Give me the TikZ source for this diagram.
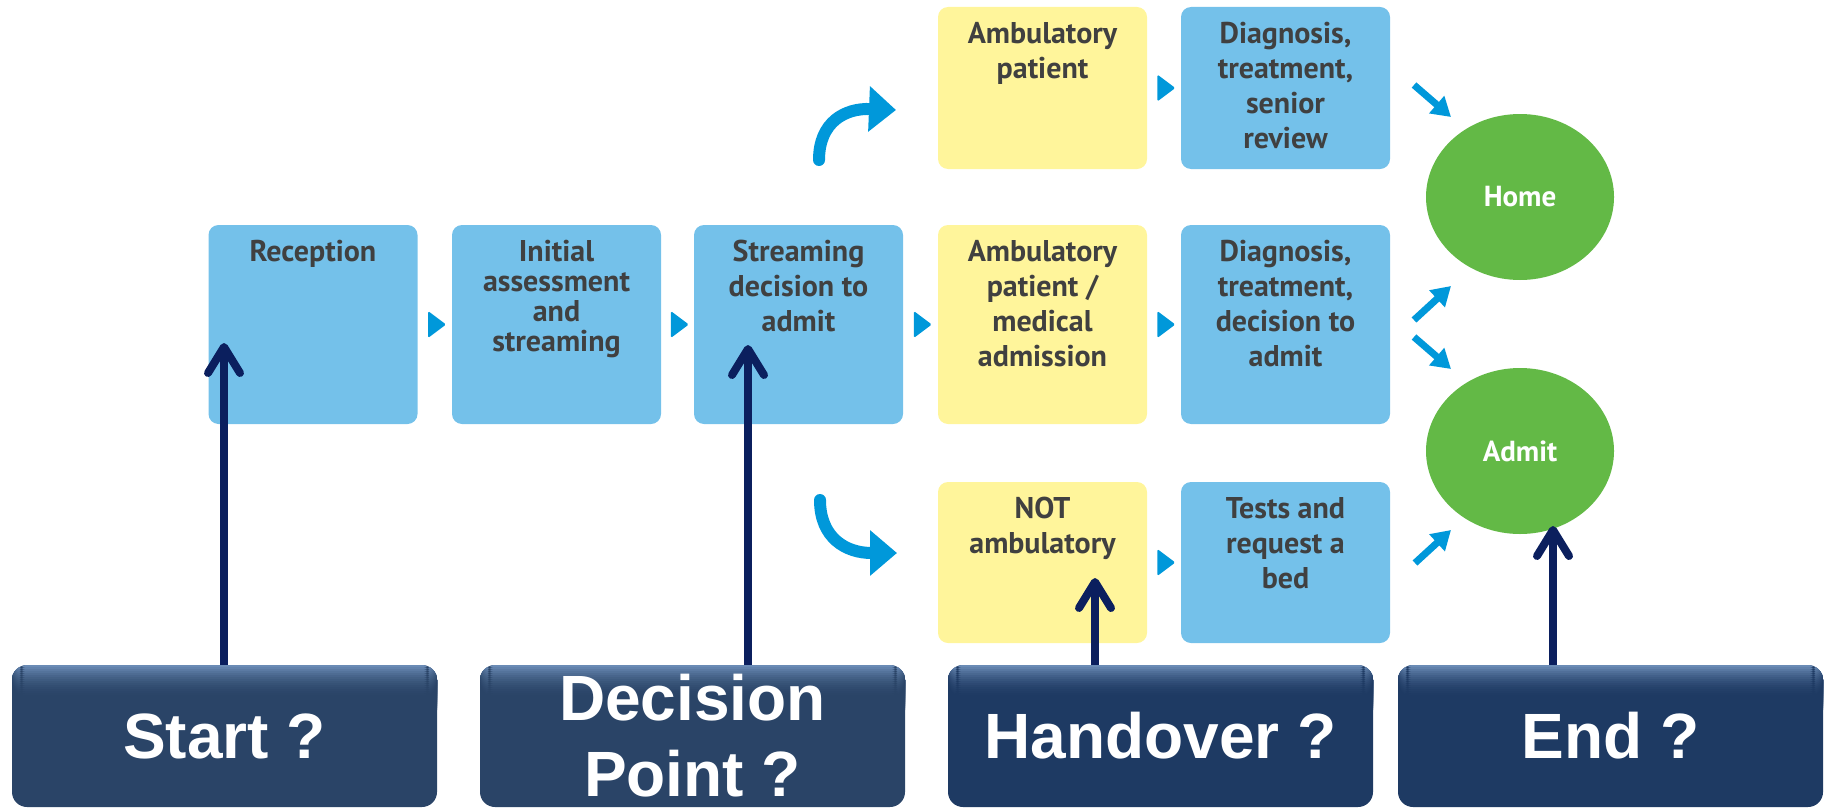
\documentclass[tikz,border=0pt]{standalone}
\usepackage{fontspec}
\setmainfont{PT Sans}
\newfontfamily\arialf{Liberation Sans}
\usetikzlibrary{arrows.meta,shapes.geometric,calc}
\definecolor{bbox}{HTML}{74C1EA}
\definecolor{ybox}{HTML}{FFF59B}
\definecolor{gell}{HTML}{63B946}
\definecolor{tblue}{HTML}{0098DA}
\definecolor{tgray}{HTML}{404040}
\definecolor{navyline}{HTML}{0B1F5E}
\definecolor{navyA}{HTML}{2A4467}
\definecolor{navyB}{HTML}{1E3A63}
\definecolor{navyTop}{HTML}{6A8BB5}
\newcommand{\fs}{\rule{0pt}{28pt}}
\begin{document}
\begin{tikzpicture}[x=1pt,y=-1pt,
  box/.style={rounded corners=10pt, inner sep=0pt, minimum width=209pt},
  bluebox/.style={box, fill=bbox},
  yelbox/.style={box, fill=ybox},
  midrow/.style={minimum height=199pt},
  toprow/.style={minimum height=162pt},
  botrow/.style={minimum height=161pt},
  lbl/.style={anchor=north, inner sep=0pt, align=center, text=tgray,
    font=\bfseries\fontsize{30}{35}\selectfont},
  lblfour/.style={lbl, font=\bfseries\fontsize{30}{30}\selectfont},
  ell/.style={ellipse, fill=gell, inner sep=0pt, minimum width=188pt,
    minimum height=166pt, text=white, font=\bfseries\fontsize{29}{32}\selectfont},
  tri/.style={isosceles triangle, isosceles triangle stretches, shape border rotate=0,
    minimum width=27pt, minimum height=18pt, inner sep=0pt, fill=tblue,
    rounded corners=1.5pt},
  curv/.style={line width=12pt, draw=tblue, line cap=round,
    -{Triangle[length=27pt,width=44pt]}},
  diag/.style={line width=7pt, draw=tblue,
    -{Triangle[length=19pt,width=22pt]}},
  navarrow/.style={line width=8pt, draw=navyline,
    -{Straight Barb[round,length=26pt,width=32pt]}},
  navy/.style={rounded corners=15pt, minimum width=425pt, minimum height=142pt,
    inner sep=0pt, fill=#1, text=white, align=center,
    font=\arialf\bfseries\fontsize{64}{76}\selectfont,
    path picture={\foreach \i [evaluate=\i as \p using {100*(1-\i/16)^2}] in {0,...,15}
      {\fill[navyTop!\p!#1]
        ([yshift={-2*\i*1pt}]path picture bounding box.north west) rectangle
        ([yshift={-2*\i*1pt-2.3pt}]path picture bounding box.north east);}}}
]
\useasboundingbox (0,0) rectangle (1830,808);

% middle row
\node[bluebox, midrow] (rec) at (313,324.5) {};
\node[bluebox, midrow] (ini) at (556.5,324.5) {};
\node[bluebox, midrow] (str) at (798.5,324.5) {};
\node[yelbox, midrow] (amb2) at (1042.5,324.5) {};
\node[bluebox, midrow] (dia2) at (1285.5,324.5) {};
% top row
\node[yelbox, toprow] (amb1) at (1042.5,88) {};
\node[bluebox, toprow] (dia1) at (1285.5,88) {};
% bottom row
\node[yelbox, botrow] (not) at (1042.5,562.5) {};
\node[bluebox, botrow] (tst) at (1285.5,562.5) {};

% labels
\node[lbl] (recL) at ([yshift=-8pt]rec.north) {\fs Reception};
\node[lblfour] (iniL) at ([yshift=-8pt]ini.north) {\fs Initial\\assessment\\and\\streaming};
\node[lbl] (strL) at ([yshift=-8pt]str.north) {\fs Streaming\\decision to\\admit};
\node[lbl] (amb2L) at ([yshift=-8pt]amb2.north) {\fs Ambulatory\\patient /\\medical\\admission};
\node[lbl] (dia2L) at ([yshift=-8pt]dia2.north) {\fs Diagnosis,\\treatment,\\decision to\\admit};
\node[lbl] (amb1L) at ([yshift=-8pt]amb1.north) {\fs Ambulatory\\patient};
\node[lbl] (dia1L) at ([yshift=-8pt]dia1.north) {\fs Diagnosis,\\treatment,\\senior\\review};
\node[lbl] (notL) at ([yshift=-8pt]not.north) {\fs NOT\\ambulatory};
\node[lbl] (tstL) at ([yshift=-8pt]tst.north) {\fs Tests and\\request a\\bed};

% ellipses
\node[ell] (home) at (1520,197) {Home};
\node[ell] (admit) at (1520,451) {Admit};

% small triangles
\node[tri] (t1) at ($(rec.east)!0.5!(ini.west)$) {};
\node[tri] (t2) at ($(ini.east)!0.5!(str.west)$) {};
\node[tri] (t3) at ($(str.east)!0.5!(amb2.west)$) {};
\node[tri] (t4) at ($(amb2.east)!0.5!(dia2.west)$) {};
\node[tri] (t5) at ($(amb1.east)!0.5!(dia1.west)$) {};
\node[tri] (t6) at ($(not.east)!0.5!(tst.west)$) {};

% curved arrows
\coordinate (cu1) at (819,160);
\coordinate (cu1e) at (896,110);
\coordinate (cd1) at (820,500);
\coordinate (cd1e) at (897,553);
\draw[curv] (cu1) .. controls (819,122) and (845,108) .. (cu1e);
\draw[curv] (cd1) .. controls (820,538) and (846,553) .. (cd1e);

% diagonal arrows
\coordinate (a1s) at (1414,85);  \coordinate (a1e) at (1451,117);
\coordinate (a2s) at (1414,320); \coordinate (a2e) at (1451,286);
\coordinate (a3s) at (1414,337); \coordinate (a3e) at (1451,369);
\coordinate (a4s) at (1415,563); \coordinate (a4e) at (1451,530);
\draw[diag] (a1s) -- (a1e);
\draw[diag] (a2s) -- (a2e);
\draw[diag] (a3s) -- (a3e);
\draw[diag] (a4s) -- (a4e);

% navy boxes
\node[navy=navyA] (start) at (224.5,736) {Start ?};
\node[navy=navyA] (dec) at (692.5,736) {Decision\\Point ?};
\node[navy=navyB] (hand) at (1160.5,736) {Handover ?};
\node[navy=navyB] (endb) at (1610.5,736) {End ?};

% navy arrows
\coordinate (pS) at (224,343);
\coordinate (pD) at (748,345);
\coordinate (pH) at (1095,578);
\coordinate (pE) at (1553,526);
\draw[navarrow] (pS |- start.north) -- (pS);
\draw[navarrow] (pD |- dec.north) -- (pD);
\draw[navarrow] (pH |- hand.north) -- (pH);
\draw[navarrow] (pE |- endb.north) -- (pE);
\end{tikzpicture}
\end{document}
